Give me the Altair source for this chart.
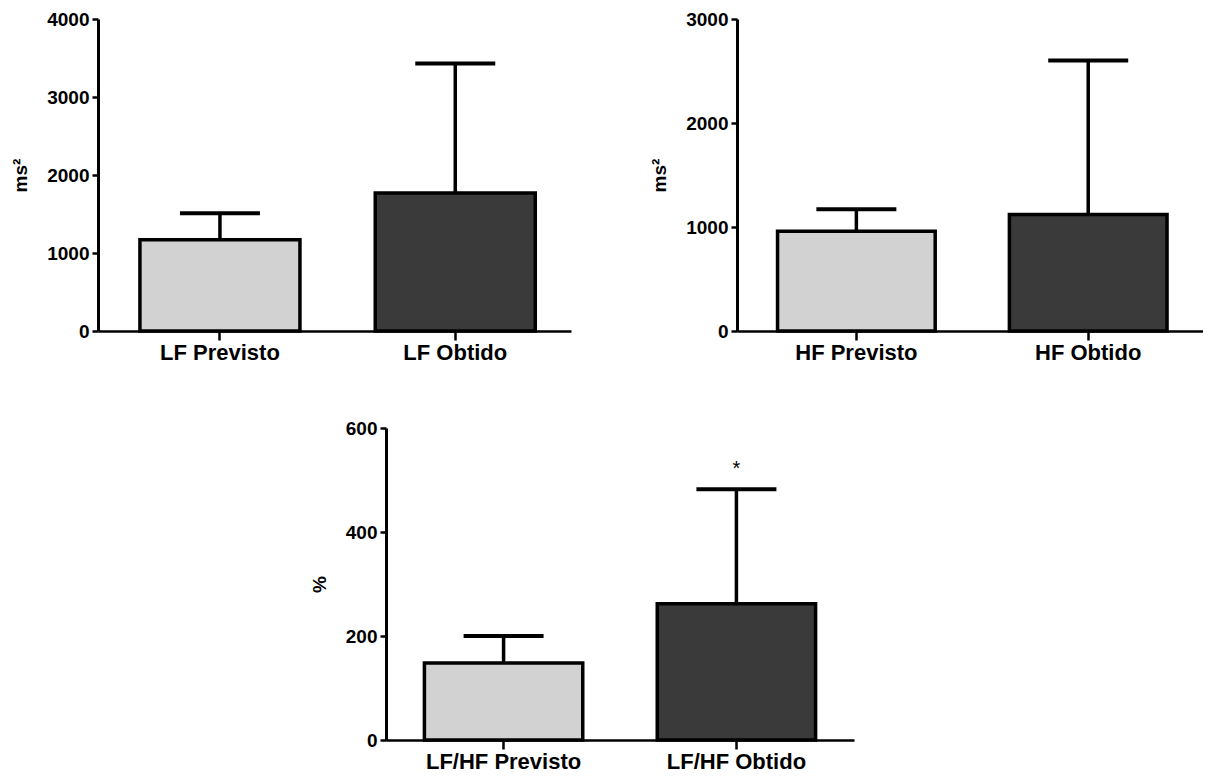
import altair as alt
import pandas as pd

# ---- data ----
lf_cats = ["LF Previsto", "LF Obtido"]
lf_vals = [1170, 1770]
lf_errs = [1510, 3430]

hf_cats = ["HF Previsto", "HF Obtido"]
hf_vals = [960, 1120]
hf_errs = [1170, 2600]

ratio_cats = ["LF/HF Previsto", "LF/HF Obtido"]
ratio_vals = [148, 262]
ratio_errs = [200, 482]
ratio_marks = ["", "*"]

groups = ["Previsto", "Obtido"]
FONT = "Liberation Sans"


def panel(cats, vals, errs, ymax, ystep, ytitle, width, align, marks=None):
    df = pd.DataFrame({
        "cat": cats,
        "val": vals,
        "err": errs,
        "grp": groups,
        "mark": marks if marks else ["", ""],
    })
    xs = alt.X(
        "cat:N", sort=cats, title=None,
        scale=alt.Scale(paddingInner=0.32, paddingOuter=0.165, align=align),
        axis=alt.Axis(labelAngle=0, labelAlign="center", labelBaseline="top",
                      labelFontSize=22, labelFontWeight="bold",
                      labelColor="black", domainColor="black", domainWidth=2.5,
                      tickColor="black", tickWidth=2.5, tickSize=9, labelPadding=2),
    )
    ys = alt.Y(
        "val:Q", title=ytitle,
        scale=alt.Scale(domain=[0, ymax], nice=False),
        axis=alt.Axis(values=list(range(0, ymax + 1, ystep)), format="d", grid=False,
                      labelFontSize=19, labelFontWeight="bold", labelColor="black",
                      domainColor="black", domainWidth=3, tickColor="black",
                      tickWidth=2.5, tickSize=6, labelPadding=3,
                      titleFontSize=19, titleFontWeight="bold", titleColor="black",
                      titlePadding=16),
    )
    base = alt.Chart(df)
    bars = base.mark_bar(stroke="black", strokeWidth=3.5).encode(
        x=xs, y=ys,
        color=alt.Color("grp:N", scale=alt.Scale(domain=groups, range=["#d2d2d2", "#3a3a3a"]),
                        legend=None),
    )
    rule = base.mark_rule(color="black", strokeWidth=3.5).encode(
        x=alt.X("cat:N", sort=cats), y="val:Q", y2="err:Q")
    cap = base.mark_tick(color="black", thickness=4, size=80, opacity=1).encode(
        x=alt.X("cat:N", sort=cats), y="err:Q")
    layers = [rule, cap, bars]
    if marks:
        txt = base.mark_text(dy=-20, fontSize=20, color="black", font=FONT).encode(
            x=alt.X("cat:N", sort=cats), y="err:Q", text="mark:N")
        layers.append(txt)
    return alt.layer(*layers).properties(width=width, height=312)


p1 = panel(lf_cats, lf_vals, lf_errs, 4000, 1000, "ms²", 473, 0.54)
p2 = panel(hf_cats, hf_vals, hf_errs, 3000, 1000, "ms²", 466, 0.53)
p3 = panel(ratio_cats, ratio_vals, ratio_errs, 600, 200, "%", 468, 0.5, ratio_marks)

spacer = alt.Chart(pd.DataFrame({"a": [0]})).mark_point(opacity=0).encode(
    x=alt.value(0), y=alt.value(0)).properties(width=202, height=1)

top = alt.hconcat(p1, p2, spacing=79)
bottom = alt.hconcat(spacer, p3, spacing=10)
chart = alt.vconcat(top, bottom, spacing=56).properties(
    padding={"left": 11, "top": 10, "right": 0, "bottom": 0}
).configure(font=FONT).configure_view(stroke=None).configure_axis(grid=False)

chart.save("out.html", embed_options={"renderer": "svg", "actions": False})
